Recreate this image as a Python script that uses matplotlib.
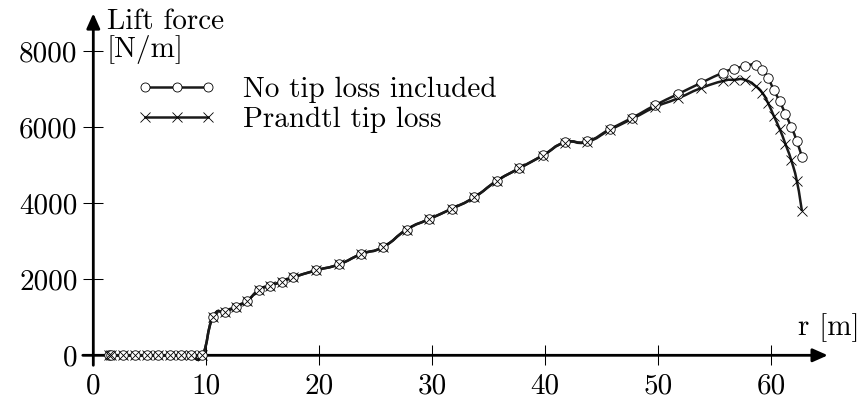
import matplotlib
matplotlib.use("Agg")
import matplotlib.pyplot as plt
import numpy as np
from matplotlib.path import Path
from matplotlib.patches import PathPatch, ArrowStyle

plt.rcParams['font.family'] = 'cmr10'
plt.rcParams['axes.formatter.use_mathtext'] = True
plt.rcParams['font.size'] = 21

# radial stations along the blade [m]
r = [1.35, 1.54, 2.65, 3.68, 4.71, 5.74, 6.77, 7.74, 8.68, 9.65,
     10.59, 11.68, 12.65, 13.62, 14.67, 15.68, 16.68, 17.68,
     19.69, 21.70, 23.71, 25.67, 27.74, 29.71, 31.71, 33.68, 35.70,
     37.68, 39.77, 41.71, 43.68, 45.74, 47.71, 49.71, 51.71, 53.77,
     55.74, 56.71, 57.65, 58.62, 59.21, 59.71, 60.21, 60.74, 61.24,
     61.77, 62.27, 62.71]

# lift per unit length [N/m], no tip correction
lift_no_tip = [0, 0, 0, 0, 0, 0, 0, 0, 0, 0,
               1001, 1149, 1281, 1439, 1720, 1834, 1939, 2050,
               2234, 2390, 2664, 2854, 3310, 3584, 3855, 4153, 4588,
               4920, 5260, 5602, 5628, 5955, 6253, 6580, 6870, 7167,
               7440, 7540, 7605, 7650, 7499, 7299, 6991, 6683, 6358,
               6008, 5628, 5217]

# lift per unit length [N/m], Prandtl tip loss factor applied
lift_prandtl = [0, 0, 0, 0, 0, 0, 0, 0, 0, 0,
                1001, 1149, 1281, 1439, 1720, 1834, 1939, 2050,
                2234, 2390, 2664, 2854, 3310, 3584, 3855, 4153, 4588,
                4920, 5255, 5595, 5615, 5935, 6225, 6530, 6760, 7030,
                7220, 7250, 7250, 7080, 6904, 6640, 6306, 5955, 5568,
                5128, 4574, 3800]

xticks = [0, 10, 20, 30, 40, 50, 60]
yticks = [0, 2000, 4000, 6000, 8000]


def smooth_path(x, y, tension=0.55):
    # cubic Bezier through the points, tikz-style tension
    p = np.column_stack([x, y]).astype(float)
    n = len(p)
    k = tension / 2.0
    verts = [p[0]]
    codes = [Path.MOVETO]
    for i in range(n - 1):
        prev = p[max(i - 1, 0)]
        nxt = p[min(i + 2, n - 1)]
        c1 = p[i] + k * (p[i + 1] - prev)
        c2 = p[i + 1] - k * (nxt - p[i])
        verts += [c1, c2, p[i + 1]]
        codes += [Path.CURVE4] * 3
    return Path(verts, codes)


fig = plt.figure(figsize=(8.61, 4.01), dpi=100)
ax = fig.add_axes([0.08868, 0.04763, 0.8990, 0.9476])
ax.set_xlim(-1.5, 67)
ax.set_ylim(-700, 9300)

for s in ax.spines.values():
    s.set_visible(False)
ax.spines['left'].set_position(('data', 0))
ax.spines['bottom'].set_position(('data', 0))

# axis lines with arrow heads
arrow = ArrowStyle('-|>', head_length=0.45, head_width=0.2)
ax.annotate('', xy=(65, 0), xytext=(-0.93, 0),
            arrowprops=dict(arrowstyle=arrow, lw=2.0, color='black',
                            shrinkA=0, shrinkB=0, mutation_scale=20))
ax.annotate('', xy=(0, 9000), xytext=(0, -263),
            arrowprops=dict(arrowstyle=arrow, lw=2.0, color='black',
                            shrinkA=0, shrinkB=0, mutation_scale=20))

ax.set_xticks(xticks, [str(t) for t in xticks])
ax.set_yticks(yticks, [str(t) for t in yticks])
ax.tick_params(direction='inout', length=14.4, width=0.75,
               top=False, right=False)
ax.tick_params(axis='x', pad=6)
ax.tick_params(axis='y', pad=4)

# smoothed curves
for lift in (lift_no_tip, lift_prandtl):
    ax.add_patch(PathPatch(smooth_path(r, lift), facecolor='none',
                           edgecolor='#1a1a1a', lw=1.8, zorder=3))

# markers and legend handles
ax.plot(r, lift_no_tip, linestyle='none', marker='o', markersize=6.8,
        markerfacecolor='white', markeredgecolor='black',
        markeredgewidth=0.6, zorder=4)
ax.plot(r, lift_prandtl, linestyle='none', marker='x', markersize=6.5,
        color='black', markeredgewidth=0.6, zorder=5)

h1, = ax.plot([], [], color='#1a1a1a', lw=1.8, marker='o', markersize=6.5,
              markerfacecolor='white', markeredgecolor='black',
              markeredgewidth=0.6)
h2, = ax.plot([], [], color='#1a1a1a', lw=1.8, marker='x', markersize=6.5,
              markeredgecolor='black', markeredgewidth=0.6)
ax.legend([h1, h2], ['No tip loss included', 'Prandtl tip loss'],
          loc='upper left', bbox_to_anchor=(136.25 / 861, 1 - 77 / 401),
          bbox_transform=fig.transFigure, frameon=False, numpoints=3,
          handlelength=2.76, handletextpad=0.9, borderpad=0,
          borderaxespad=0, labelspacing=0.1)

ax.text(1.21, 8600, 'Lift force', ha='left', va='baseline')
ax.text(1.21, 7840, '[N/m]', ha='left', va='baseline')
ax.text(62.36, 530, 'r [m]', ha='left', va='baseline')

fig.savefig('out.png', dpi=100)
